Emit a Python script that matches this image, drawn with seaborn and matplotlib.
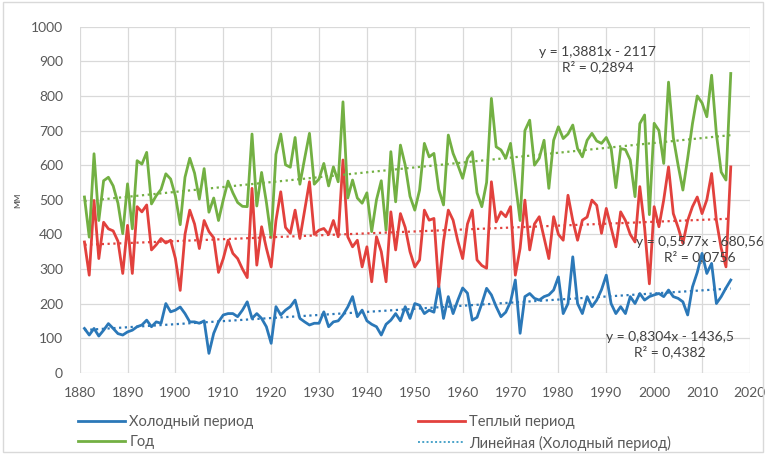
import numpy as np
import pandas as pd
import seaborn as sns
import matplotlib.pyplot as plt
from matplotlib.lines import Line2D
from matplotlib.patches import Rectangle

# precipitation, mm (1881-2016)
years = np.arange(1881, 2017)
cold = [128,109,128,106,123,142,128,113,109,118,
        123,133,138,152,133,147,143,200,176,181,
        190,171,147,147,143,150,56,114,147,167,
        171,171,162,181,205,157,171,157,133,85,
        191,167,181,191,210,157,147,138,143,143,
        176,133,147,150,167,190,220,162,181,150,
        140,133,109,140,152,171,150,191,157,200,
        195,171,181,175,253,157,220,171,210,245,
        230,152,160,200,244,225,191,162,175,205,
        268,114,220,229,215,210,220,225,239,277,
        171,200,335,200,171,220,191,210,240,282,
        200,171,191,171,220,200,229,210,220,225,
        229,220,239,220,215,205,167,248,290,345,
        287,316,200,220,245,268]
warm = [378,282,498,330,435,416,410,380,287,426,
        287,480,465,485,355,370,388,375,383,330,
        238,400,470,430,359,440,408,390,290,330,
        383,345,330,300,275,533,311,422,360,306,
        440,523,420,403,470,388,470,552,400,412,
        417,400,440,393,615,393,364,383,306,364,
        263,393,350,263,465,355,460,420,350,306,
        326,470,441,446,249,380,470,441,380,330,
        430,470,326,310,302,552,436,465,451,480,
        282,360,499,355,430,451,390,330,451,400,
        383,513,440,383,441,450,499,484,403,475,
        420,364,465,440,400,378,538,420,257,480,
        422,500,595,460,420,374,440,480,508,460,
        500,576,440,360,306,595]
annual = [508,392,633,440,555,565,540,490,402,546,
          416,613,603,637,488,512,530,575,560,511,
          428,565,620,577,502,590,464,505,440,500,
          554,520,492,481,480,690,482,579,493,391,
          631,690,601,594,680,545,620,692,545,560,
          605,540,595,552,783,505,557,505,490,520,
          408,500,555,412,639,494,658,600,510,470,
          528,663,624,634,530,485,687,634,600,562,
          620,639,520,480,550,793,653,644,620,663,
          550,440,700,730,600,620,672,533,672,711,
          677,690,716,648,624,672,692,670,663,680,
          650,535,648,645,615,509,720,745,457,721,
          700,605,840,680,600,528,620,720,800,780,
          740,860,690,580,557,865]

labels = ["Холодный период", "Теплый период", "Год"]
colors = ["#2b78b8", "#e2413d", "#73b043"]
equations = ["y = 0,8304x - 1436,5\nR² = 0,4382",
             "y = 0,5577x - 680,56\nR² = 0,0756",
             "y = 1,3881x - 2117\nR² = 0,2894"]

plt.rcParams['font.family'] = ['Lato', 'DejaVu Sans']
txtc = "#595959"

df = pd.DataFrame({"year": years, labels[0]: cold, labels[1]: warm, labels[2]: annual})
long = df.melt(id_vars="year", var_name="series", value_name="mm")

fig = plt.figure(figsize=(7.66, 4.54), dpi=100)
ax = fig.add_axes([0.104, 0.179, 0.875, 0.762])

sns.lineplot(data=long, x="year", y="mm", hue="series", hue_order=labels,
             palette=colors, linewidth=2.0, legend=False, ax=ax)
for lab, c in zip(labels, colors):
    sns.regplot(x=df["year"], y=df[lab], scatter=False, ci=None, ax=ax,
                line_kws=dict(color=c, linestyle=(0, (1, 1.6)), linewidth=1.6))

ax.set_xlim(1880, 2020)
ax.set_ylim(0, 1000)
ax.set_xticks(range(1880, 2021, 10))
ax.set_yticks(range(0, 1001, 100))
ax.grid(True, color="#d9d9d9", linewidth=0.9)
ax.set_axisbelow(True)
for s in ax.spines.values():
    s.set_visible(False)
ax.tick_params(length=0, labelsize=10, labelcolor=txtc)
ax.tick_params(axis="x", pad=10)
ax.tick_params(axis="y", pad=12)
ax.set_xlabel("")
ax.set_ylabel("мм", fontsize=8, color=txtc, labelpad=6)

# trend equations
eq_kw = dict(ha="center", va="center", fontsize=10, color="#404040", linespacing=1.2)
ax.text(1988.2, 904, equations[2], **eq_kw)
ax.text(2009.5, 356, equations[1], **eq_kw)
ax.text(2003.3, 81, equations[0], **eq_kw)

handles = [Line2D([], [], color=colors[0], lw=2),
           Line2D([], [], color=colors[2], lw=2),
           Line2D([], [], color=colors[1], lw=2),
           Line2D([], [], color="#4aa3c9", lw=1.4, linestyle=(0, (1, 1.2)))]
names = [labels[0], labels[2], labels[1], "Линейная (Холодный период)"]
fig.legend(handles, names, ncol=2, loc="upper left", bbox_to_anchor=(0.085, 0.115),
           frameon=False, fontsize=10.5, labelcolor=txtc, handlelength=3.2,
           handletextpad=0.3, columnspacing=11.3, labelspacing=0.45)

fig.patches.append(Rectangle((0.004, 0.004), 0.992, 0.992, transform=fig.transFigure,
                             fill=False, edgecolor="#d9d9d9", linewidth=1))

fig.savefig("out.png", dpi=100, facecolor="white")
